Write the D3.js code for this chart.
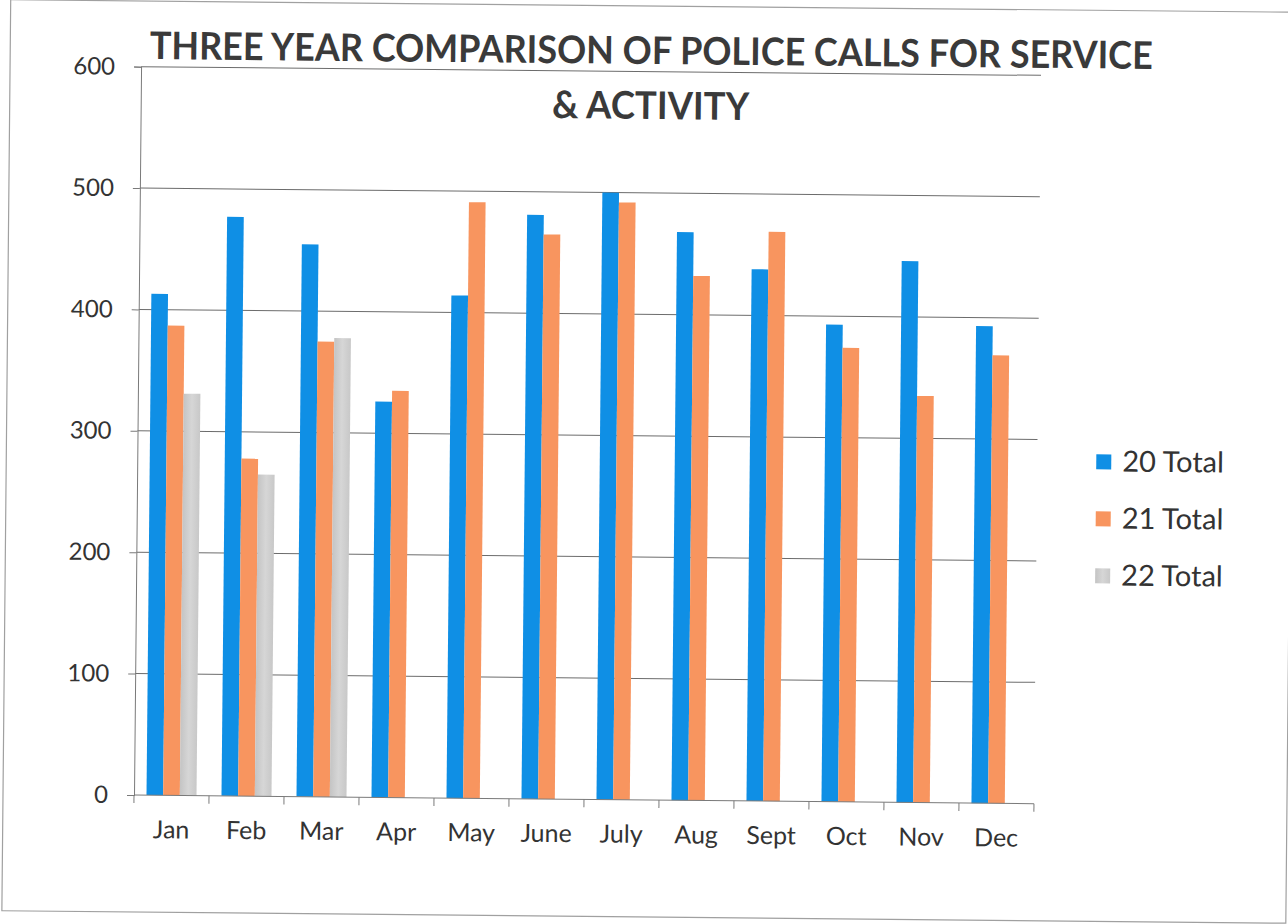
<!DOCTYPE html>
<html>
<head>
<meta charset="utf-8">
<script src="https://cdn.jsdelivr.net/npm/d3@7"></script>
<style>
  html, body { margin: 0; padding: 0; background: #fff; }
  svg { display: block; }
  text { font-family: Lato, "Open Sans", "Liberation Sans", sans-serif; }
</style>
</head>
<body>
<svg id="chart" width="1288" height="924"></svg>
<script>
// Monthly police calls for service, three years side by side
const months = ["Jan", "Feb", "Mar", "Apr", "May", "June", "July", "Aug", "Sept", "Oct", "Nov", "Dec"];
const total20 = [413, 477, 455, 326, 414, 481, 500, 468, 438, 393, 446, 393];
const total21 = [387, 278, 375, 335, 491, 465, 492, 432, 469, 374, 335, 369];
const total22 = [331, 265, 378, null, null, null, null, null, null, null, null, null];
const seriesNames = ["20 Total", "21 Total", "22 Total"];
const seriesColors = ["#0F8FE5", "#F8955F", "url(#grayFill)"];
const yTicks = [0, 100, 200, 300, 400, 500, 600];
const titleLines = ["THREE YEAR COMPARISON OF POLICE CALLS FOR SERVICE", "& ACTIVITY"];

const series = [total20, total21, total22];

const svg = d3.select("#chart");

const defs = svg.append("defs");
const grad = defs.append("linearGradient").attr("id", "grayFill")
  .attr("x1", "0").attr("x2", "1").attr("y1", "0").attr("y2", "0");
grad.append("stop").attr("offset", "0").attr("stop-color", "#c4c4c4");
grad.append("stop").attr("offset", "0.5").attr("stop-color", "#d6d6d6");
grad.append("stop").attr("offset", "1").attr("stop-color", "#c8c8c8");

// plot frame
const x0 = 134, x1 = 1034, yBase = 795, yTop = 66.6;

// the whole sheet sits at a slight angle
const root = svg.append("g").attr("transform", `rotate(0.556, ${x0}, ${yBase})`);

// chart border
root.append("rect")
  .attr("x", 3).attr("y", 1).attr("width", 1284).attr("height", 911)
  .attr("fill", "none").attr("stroke", "#a0a0a0").attr("stroke-width", 1.2);

const x = d3.scaleBand().domain(months).range([x0, x1]).paddingInner(0).paddingOuter(0);
const y = d3.scaleLinear().domain([0, 600]).range([yBase, yTop]);

// bar width with a 150% gap between clusters
const barW = x.bandwidth() / (series.length + 1.5);
const xs = d3.scaleBand().domain(d3.range(series.length))
  .range([0.75 * barW, 0.75 * barW + barW * series.length]);

// gridlines
root.append("g")
  .selectAll("line")
  .data(yTicks.filter(d => d > 0))
  .join("line")
  .attr("x1", x0).attr("x2", x1)
  .attr("y1", d => y(d)).attr("y2", d => y(d))
  .attr("stroke", "#6c6c6c").attr("stroke-width", 1);

// bars
series.forEach((vals, si) => {
  root.append("g")
    .selectAll("rect")
    .data(months.map((m, i) => ({ m, v: vals[i] })).filter(d => d.v != null))
    .join("rect")
    .attr("x", d => x(d.m) + xs(si))
    .attr("width", xs.bandwidth())
    .attr("y", d => y(d.v))
    .attr("height", d => y(0) - y(d.v))
    .attr("fill", seriesColors[si]);
});

// y axis
const yAxis = root.append("g")
  .attr("transform", `translate(${x0},0)`)
  .call(d3.axisLeft(y).tickValues(yTicks).tickSize(7).tickPadding(19));
yAxis.select(".domain").attr("stroke", "#7a7a7a");
yAxis.selectAll(".tick line").attr("stroke", "#7a7a7a");
yAxis.selectAll(".tick text")
  .attr("fill", "#333").style("font-size", "24px");

// x axis: ticks at category boundaries
const xAxis = root.append("g").attr("transform", `translate(0,${yBase})`);
xAxis.append("line")
  .attr("x1", x0).attr("x2", x1).attr("y1", 0).attr("y2", 0)
  .attr("stroke", "#7a7a7a");
xAxis.selectAll("line.tk")
  .data(months.map(m => x(m)).concat([x1]))
  .join("line").attr("class", "tk")
  .attr("x1", d => d).attr("x2", d => d)
  .attr("y1", 0).attr("y2", 8)
  .attr("stroke", "#7a7a7a");
xAxis.selectAll("text")
  .data(months)
  .join("text")
  .attr("x", d => x(d) + x.bandwidth() / 2)
  .attr("y", 43)
  .attr("text-anchor", "middle")
  .attr("fill", "#333")
  .style("font-size", "25px")
  .text(d => d);

// title
root.append("text")
  .attr("x", 644).attr("y", 59)
  .attr("text-anchor", "middle")
  .attr("fill", "#3a3a3a")
  .attr("font-weight", "bold")
  .attr("textLength", 1003).attr("lengthAdjust", "spacingAndGlyphs")
  .style("font-size", "38px")
  .text(titleLines[0]);
root.append("text")
  .attr("x", 644).attr("y", 114)
  .attr("text-anchor", "middle")
  .attr("fill", "#3a3a3a")
  .attr("font-weight", "bold")
  .attr("textLength", 197).attr("lengthAdjust", "spacingAndGlyphs")
  .style("font-size", "38px")
  .text(titleLines[1]);

// legend
const legend = root.append("g");
const rowY = [452, 509, 566];
seriesNames.forEach((name, i) => {
  legend.append("rect")
    .attr("x", 1093).attr("y", rowY[i] - 7)
    .attr("width", 15).attr("height", 15)
    .attr("fill", seriesColors[i]);
  legend.append("text")
    .attr("x", 1119).attr("y", rowY[i] + 10)
    .attr("fill", "#333")
    .style("font-size", "29px")
    .text(name);
});
</script>
</body>
</html>
